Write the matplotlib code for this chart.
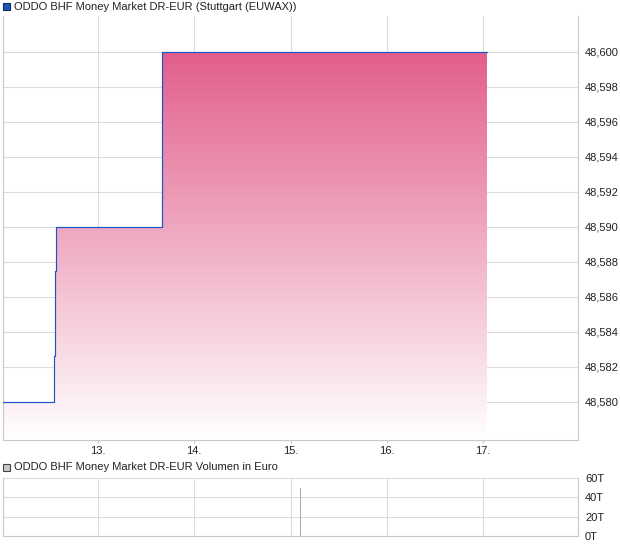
import matplotlib
matplotlib.use("Agg")
import matplotlib.pyplot as plt
import numpy as np
from matplotlib.patches import Rectangle
from matplotlib.ticker import FixedLocator, FuncFormatter

plt.rcParams['font.family'] = ['Liberation Sans', 'DejaVu Sans']

## Data (x = day of month, intraday as fraction)
times = [12.013, 12.54, 12.55, 12.56, 13.66, 13.67, 17.04]
prices = [48.580, 48.5826, 48.5875, 48.590, 48.5949, 48.600, 48.600]
day_ticks = [13, 14, 15, 16, 17]
price_ticks = [48.580, 48.582, 48.584, 48.586, 48.588, 48.590,
               48.592, 48.594, 48.596, 48.598, 48.600]
vol_days = [15.10]
vol_values = [50000]
vol_ticks = [0, 20000, 40000, 60000]

title_top = 'ODDO BHF Money Market DR-EUR (Stuttgart (EUWAX))'
title_vol = 'ODDO BHF Money Market DR-EUR Volumen in Euro'

xlim = (12.013, 17.987)
ylim = (48.57783, 48.60204)
grid_c = '#dcdcdc'
spine_c = '#c8c8c8'
line_c = '#1a56c8'
top_rgb = np.array([226, 94, 140]) / 255.

fig = plt.figure(figsize=(6.2, 5.46), dpi=100)
ax = fig.add_axes([3/620, 1-440/546, 575/620, 424/546])
axv = fig.add_axes([3/620, 1-536/546, 575/620, 58/546])

## Price panel
ax.set_xlim(*xlim)
ax.set_ylim(*ylim)
# gradient fill clipped to the area under the step line
poly = ax.fill_between(times, prices, ylim[0], step='post', color='none', lw=0)
n = 256
frac = np.linspace(0, 1, n)[:, None]  # 0 at bottom, 1 at top
ymax_grad = 48.600
grad = np.ones((n, 1, 4))
for c in range(3):
    grad[:, 0, c] = 1 - frac[:, 0] * (1 - top_rgb[c])
img = ax.imshow(grad, extent=[xlim[0], xlim[1], ylim[0], ymax_grad], origin='lower',
                aspect='auto', interpolation='bilinear', zorder=1)
path = poly.get_paths()[0]
img.set_clip_path(path, transform=ax.transData)
ax.set_ylim(*ylim)
ax.set_xlim(*xlim)
ax.step(times, prices, where='post', color=line_c, lw=0.85, zorder=3)

ax.yaxis.tick_right()
ax.set_yticks(price_ticks)
ax.yaxis.set_major_formatter(FuncFormatter(lambda v, p: f'{v:.3f}'.replace('.', ',')))
ax.set_xticks(day_ticks)
ax.set_xticklabels([f'{d}.' for d in day_ticks])
ax.tick_params(axis='y', length=0, pad=5, labelsize=8, colors='#222222')
ax.tick_params(axis='x', length=2, pad=2, labelsize=8, colors=spine_c, labelcolor='#222222')
ax.grid(True, color=grid_c, lw=0.8, zorder=0)
ax.set_axisbelow(True)
for s in ['top']:
    ax.spines[s].set_visible(False)
for s in ['left', 'right', 'bottom']:
    ax.spines[s].set_color(spine_c)
    ax.spines[s].set_linewidth(0.8)

## Volume panel
axv.set_xlim(*xlim)
axv.set_ylim(0, 60000)
axv.bar(vol_days, vol_values, width=0.012, color='#aaaaaa', lw=0, zorder=3)
axv.yaxis.tick_right()
axv.yaxis.set_major_locator(FixedLocator(vol_ticks))
axv.yaxis.set_major_formatter(FuncFormatter(lambda v, p: f'{int(v/1000)}T'))
axv.set_xticks(day_ticks)
axv.tick_params(axis='x', length=0, labelbottom=False)
axv.tick_params(axis='y', length=0, pad=5, labelsize=8, colors='#222222')
axv.grid(True, color=grid_c, lw=0.8, zorder=0)
axv.set_axisbelow(True)
axv.spines['top'].set_visible(False)
for s in ['left', 'right', 'bottom']:
    axv.spines[s].set_color(spine_c)
    axv.spines[s].set_linewidth(0.8)

## Legend-like headers
fig.patches.append(Rectangle((3/620, 1-10/546), 7/620, 7/546, transform=fig.transFigure,
                             facecolor='#1f55b5', edgecolor='#0c2a66', lw=0.8))
fig.text(14/620, 1-7/546, title_top, fontsize=8, va='center', ha='left', color='#222222')
fig.patches.append(Rectangle((3/620, 1-471/546), 7/620, 7/546, transform=fig.transFigure,
                             facecolor='#c8c8c8', edgecolor='#444444', lw=0.8))
fig.text(14/620, 1-467/546, title_vol, fontsize=8, va='center', ha='left', color='#222222')

fig.savefig('out.png', dpi=100)
